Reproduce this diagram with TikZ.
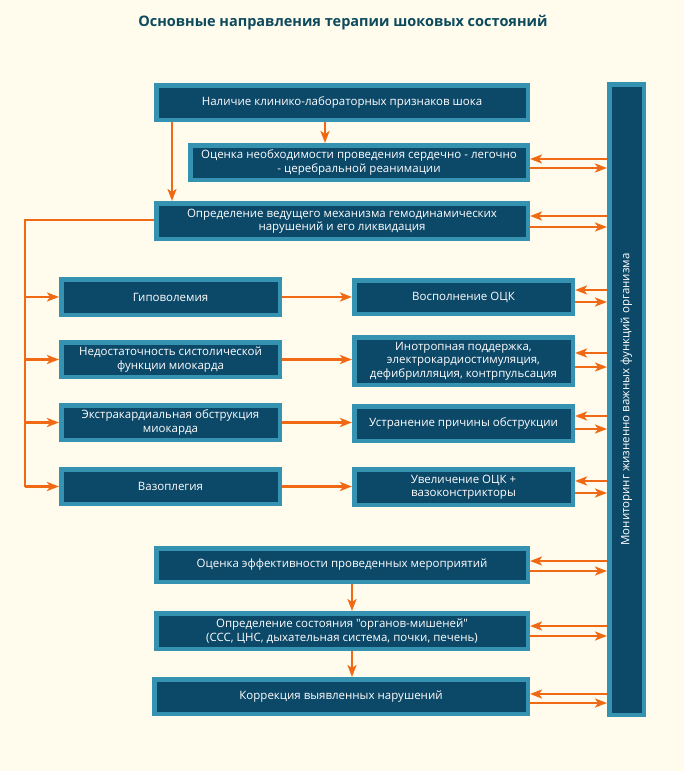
\documentclass[tikz,border=0pt]{standalone}
\usepackage{fontspec}
\setmainfont{Open Sans}[Ligatures=TeXOff]
\usetikzlibrary{arrows.meta}
\definecolor{bg}{HTML}{FFFCEE}
\definecolor{boxfill}{HTML}{0C4868}
\definecolor{boxline}{HTML}{3592B0}
\definecolor{arrcol}{HTML}{F06914}
\definecolor{titlecol}{HTML}{0C4A5C}
\newcommand\monlink[3]{%
  \draw[arr] (mon.west |- 0,#2) -- (#1.east |- 0,#2);
  \draw[arr] (#1.east |- 0,#3) -- (mon.west |- 0,#3);}
\begin{document}
\begin{tikzpicture}[x=1pt,y=-1pt,
  box/.style={draw=boxline, fill=boxfill, line width=4.5pt, text=white,
    font=\fontsize{11.5}{13.5}\selectfont, align=center, inner sep=0pt},
  arr/.style={draw=arrcol, line width=2.5pt, -{Stealth[length=12pt,width=9pt,inset=3pt]}},
  ln/.style={draw=arrcol, line width=2.5pt}]
\fill[bg] (0,0) rectangle (684,771);
\useasboundingbox (0,0) rectangle (684,771);
\node[text=titlecol, font=\bfseries\fontsize{14.5}{17}\selectfont] (title) at (343,23) {Основные направления терапии шоковых состояний};

\node[box, minimum width=371.5pt, minimum height=34.5pt] (n1) at (342,102.5) {Наличие клинико-лабораторных признаков шока};
\node[box, minimum width=337.5pt, minimum height=34.5pt] (n2) at (359,162.5) {Оценка необходимости проведения сердечно - легочно\\- церебральной реанимации};
\node[box, minimum width=371.5pt, minimum height=35.5pt] (n3) at (342,221) {Определение ведущего механизма гемодинамических\\нарушений и его ликвидация};

\node[box, minimum width=218.5pt, minimum height=35.5pt] (g1) at (170.5,297) {Гиповолемия};
\node[box, minimum width=218.5pt, minimum height=34.5pt] (g2) at (170.5,359.5) {Недостаточность систолической\\функции миокарда};
\node[box, minimum width=218.5pt, minimum height=34.5pt] (g3) at (170.5,422.5) {Экстракардиальная обструкция\\миокарда};
\node[box, minimum width=218.5pt, minimum height=34.5pt] (g4) at (170.5,486.5) {Вазоплегия};

\node[box, minimum width=218.5pt, minimum height=33.5pt] (r1) at (463.5,297) {Восполнение ОЦК};
\node[box, minimum width=218.5pt, minimum height=47.5pt] (r2) at (463.5,361) {Инотропная поддержка,\\электрокардиостимуляция,\\дефибрилляция, контрпульсация};
\node[box, minimum width=218.5pt, minimum height=34.5pt] (r3) at (463.5,423.5) {Устранение причины обструкции};
\node[box, minimum width=218.5pt, minimum height=35.5pt] (r4) at (463.5,487) {Увеличение ОЦК +\\вазоконстрикторы};

\node[box, minimum width=371.5pt, minimum height=33.5pt] (b1) at (342,565) {Оценка эффективности проведенных мероприятий};
\node[box, minimum width=371.5pt, minimum height=35.5pt] (b2) at (342,631) {Определение состояния "органов-мишеней"\\(ССС, ЦНС, дыхательная система, почки, печень)};
\node[box, minimum width=373.5pt, minimum height=34.5pt] (b3) at (341,696.5) {Коррекция выявленных нарушений};

\node[box, minimum width=34.5pt, minimum height=630.5pt] (mon) at (626.5,399.5) {};
\node[text=white, rotate=90, font=\fontsize{11.5}{13.5}\selectfont] (monlbl) at (mon.center) {Мониторинг жизненно важных функций организма};

% top arrows
\draw[arr] (n1.south -| 325,0) -- (n2.north -| 325,0);
\draw[arr] (n1.south -| 172,0) -- (n3.north -| 172,0);

% left bus
\coordinate (bt) at (25,220);
\draw[ln] (n3.west |- bt) -- (bt) -- (bt |- g4.west);
\draw[arr] (bt |- g1.west) -- (g1.west);
\draw[arr] (bt |- g2.west) -- (g2.west);
\draw[arr] (bt |- g3.west) -- (g3.west);
\draw[arr] (bt |- g4.west) -- (g4.west);

% left to right
\draw[arr] (g1.east) -- (r1.west |- g1.east);
\draw[arr] (g2.east) -- (r2.west |- g2.east);
\draw[arr] (g3.east) -- (r3.west |- g3.east);
\draw[arr] (g4.east) -- (r4.west |- g4.east);

% bottom chain
\draw[arr] (b1.south -| 352,0) -- (b2.north -| 352,0);
\draw[arr] (b2.south -| 352,0) -- (b3.north -| 352,0);

% monitor links
\monlink{n2}{159}{168}
\monlink{n3}{216}{227}
\monlink{r1}{290}{302}
\monlink{r2}{353}{367}
\monlink{r3}{416}{429}
\monlink{r4}{481}{493}
\monlink{b1}{561}{571}
\monlink{b2}{626}{636}
\monlink{b3}{694}{703}
\end{tikzpicture}
\end{document}
